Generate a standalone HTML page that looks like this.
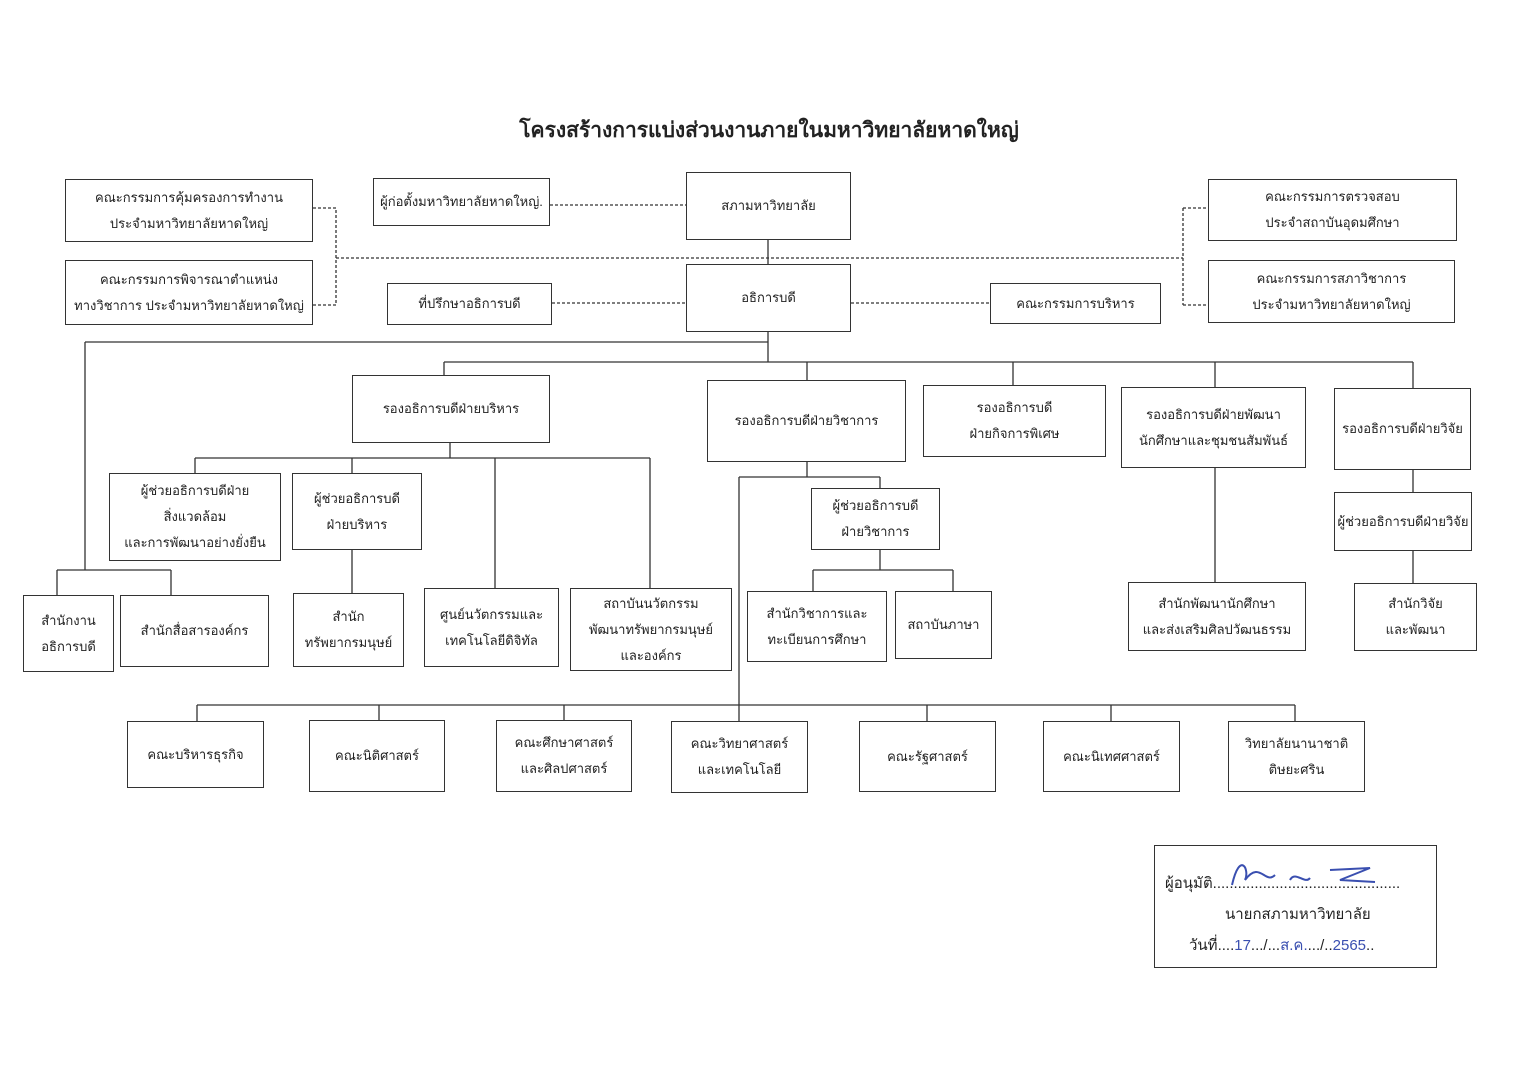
<!DOCTYPE html>
<html><head><meta charset="utf-8">
<style>
body{margin:0;background:#fff;}
#c{position:relative;width:1520px;height:1075px;overflow:hidden;font-family:"Liberation Sans","DejaVu Sans",sans-serif;color:#222;}
.b{position:absolute;border:1.3px solid #333;box-sizing:border-box;display:flex;align-items:center;justify-content:center;text-align:center;font-size:13px;line-height:26px;background:#fff;}
svg{position:absolute;left:0;top:0;}
.t{position:absolute;left:0;width:1538px;top:114px;text-align:center;font-size:21px;font-weight:bold;}
</style></head><body><div id="c">
<svg width="1520" height="1075">
<g stroke="#333" stroke-width="1.3" fill="none">
<g stroke-dasharray="3,2">
<path d="M313 208H336V305H313M336 258H1183M1183 208V305M1183 208H1208M1183 305H1208M550 205H686M552 303H686M851 303H990"/>
</g>
<path d="M768 240V264M768 332V362M85 342H768M85 342V570M57 570H171M57 570V595M171 570V595"/>
<path d="M444 362H1413M444 362V375M807 362V380M1013 362V385M1215 362V387M1413 362V388"/>
<path d="M450 443V458M195 458H650M195 458V473M352 458V473M495 458V588M650 458V588M352 550V593"/>
<path d="M807 462V477M739 477H880M880 477V488M739 477V705M880 550V570M813 570H953M813 570V591M953 570V591"/>
<path d="M197 705H1295M197 705V721M379 705V720M564 705V720M739 705V721M927 705V721M1111 705V721M1295 705V721"/>
<path d="M1215 468V582M1413 470V492M1413 551V583"/>
</g>
</svg>
<div class="t">โครงสร้างการแบ่งส่วนงานภายในมหาวิทยาลัยหาดใหญ่</div>
<div class="b" style="left:65px;top:179px;width:248px;height:63px">คณะกรรมการคุ้มครองการทำงาน<br>ประจำมหาวิทยาลัยหาดใหญ่</div>
<div class="b" style="left:65px;top:260px;width:248px;height:65px">คณะกรรมการพิจารณาตำแหน่ง<br>ทางวิชาการ ประจำมหาวิทยาลัยหาดใหญ่</div>
<div class="b" style="left:373px;top:178px;width:177px;height:48px">ผู้ก่อตั้งมหาวิทยาลัยหาดใหญ่.</div>
<div class="b" style="left:686px;top:172px;width:165px;height:68px">สภามหาวิทยาลัย</div>
<div class="b" style="left:1208px;top:179px;width:249px;height:62px">คณะกรรมการตรวจสอบ<br>ประจำสถาบันอุดมศึกษา</div>
<div class="b" style="left:1208px;top:260px;width:247px;height:63px">คณะกรรมการสภาวิชาการ<br>ประจำมหาวิทยาลัยหาดใหญ่</div>
<div class="b" style="left:387px;top:283px;width:165px;height:42px">ที่ปรึกษาอธิการบดี</div>
<div class="b" style="left:686px;top:264px;width:165px;height:68px">อธิการบดี</div>
<div class="b" style="left:990px;top:283px;width:171px;height:41px">คณะกรรมการบริหาร</div>
<div class="b" style="left:352px;top:375px;width:198px;height:68px">รองอธิการบดีฝ่ายบริหาร</div>
<div class="b" style="left:707px;top:380px;width:199px;height:82px">รองอธิการบดีฝ่ายวิชาการ</div>
<div class="b" style="left:923px;top:385px;width:183px;height:72px">รองอธิการบดี<br>ฝ่ายกิจการพิเศษ</div>
<div class="b" style="left:1121px;top:387px;width:185px;height:81px">รองอธิการบดีฝ่ายพัฒนา<br>นักศึกษาและชุมชนสัมพันธ์</div>
<div class="b" style="left:1334px;top:388px;width:137px;height:82px">รองอธิการบดีฝ่ายวิจัย</div>
<div class="b" style="left:109px;top:473px;width:172px;height:88px">ผู้ช่วยอธิการบดีฝ่าย<br>สิ่งแวดล้อม<br>และการพัฒนาอย่างยั่งยืน</div>
<div class="b" style="left:292px;top:473px;width:130px;height:77px">ผู้ช่วยอธิการบดี<br>ฝ่ายบริหาร</div>
<div class="b" style="left:23px;top:595px;width:91px;height:77px">สำนักงาน<br>อธิการบดี</div>
<div class="b" style="left:120px;top:595px;width:149px;height:72px">สำนักสื่อสารองค์กร</div>
<div class="b" style="left:293px;top:593px;width:111px;height:74px">สำนัก<br>ทรัพยากรมนุษย์</div>
<div class="b" style="left:424px;top:588px;width:135px;height:79px">ศูนย์นวัตกรรมและ<br>เทคโนโลยีดิจิทัล</div>
<div class="b" style="left:570px;top:588px;width:162px;height:83px">สถาบันนวัตกรรม<br>พัฒนาทรัพยากรมนุษย์<br>และองค์กร</div>
<div class="b" style="left:811px;top:488px;width:129px;height:62px">ผู้ช่วยอธิการบดี<br>ฝ่ายวิชาการ</div>
<div class="b" style="left:747px;top:591px;width:140px;height:71px">สำนักวิชาการและ<br>ทะเบียนการศึกษา</div>
<div class="b" style="left:895px;top:591px;width:97px;height:68px">สถาบันภาษา</div>
<div class="b" style="left:1128px;top:582px;width:178px;height:69px">สำนักพัฒนานักศึกษา<br>และส่งเสริมศิลปวัฒนธรรม</div>
<div class="b" style="left:1334px;top:492px;width:138px;height:59px">ผู้ช่วยอธิการบดีฝ่ายวิจัย</div>
<div class="b" style="left:1354px;top:583px;width:123px;height:68px">สำนักวิจัย<br>และพัฒนา</div>
<div class="b" style="left:127px;top:721px;width:137px;height:67px">คณะบริหารธุรกิจ</div>
<div class="b" style="left:309px;top:720px;width:136px;height:72px">คณะนิติศาสตร์</div>
<div class="b" style="left:496px;top:720px;width:136px;height:72px">คณะศึกษาศาสตร์<br>และศิลปศาสตร์</div>
<div class="b" style="left:671px;top:721px;width:137px;height:72px">คณะวิทยาศาสตร์<br>และเทคโนโลยี</div>
<div class="b" style="left:859px;top:721px;width:137px;height:71px">คณะรัฐศาสตร์</div>
<div class="b" style="left:1043px;top:721px;width:137px;height:71px">คณะนิเทศศาสตร์</div>
<div class="b" style="left:1228px;top:721px;width:137px;height:71px">วิทยาลัยนานาชาติ<br>ติษยะศริน</div>
<div class="b" style="left:1154px;top:845px;width:283px;height:123px;display:block;font-size:15px;line-height:31px;text-align:left;padding:22px 0 0 10px">
<div>ผู้อนุมัติ.............................................</div>
<div style="padding-left:60px">นายกสภามหาวิทยาลัย</div>
<div style="padding-left:24px">วันที่....<span style="color:#3a4fb0">17</span>.../...<span style="color:#3a4fb0">ส.ค.</span>.../..<span style="color:#3a4fb0">2565</span>..</div>
</div>
<svg width="1520" height="1075" style="pointer-events:none"><path d="M1232 885 C1240 850 1250 870 1245 880 C1260 860 1265 885 1275 875 M1290 880 C1295 870 1305 885 1310 878 M1330 870 L1370 868 L1340 880 L1375 882" stroke="#3a4fb0" stroke-width="2" fill="none"/></svg>
</div></body></html>
